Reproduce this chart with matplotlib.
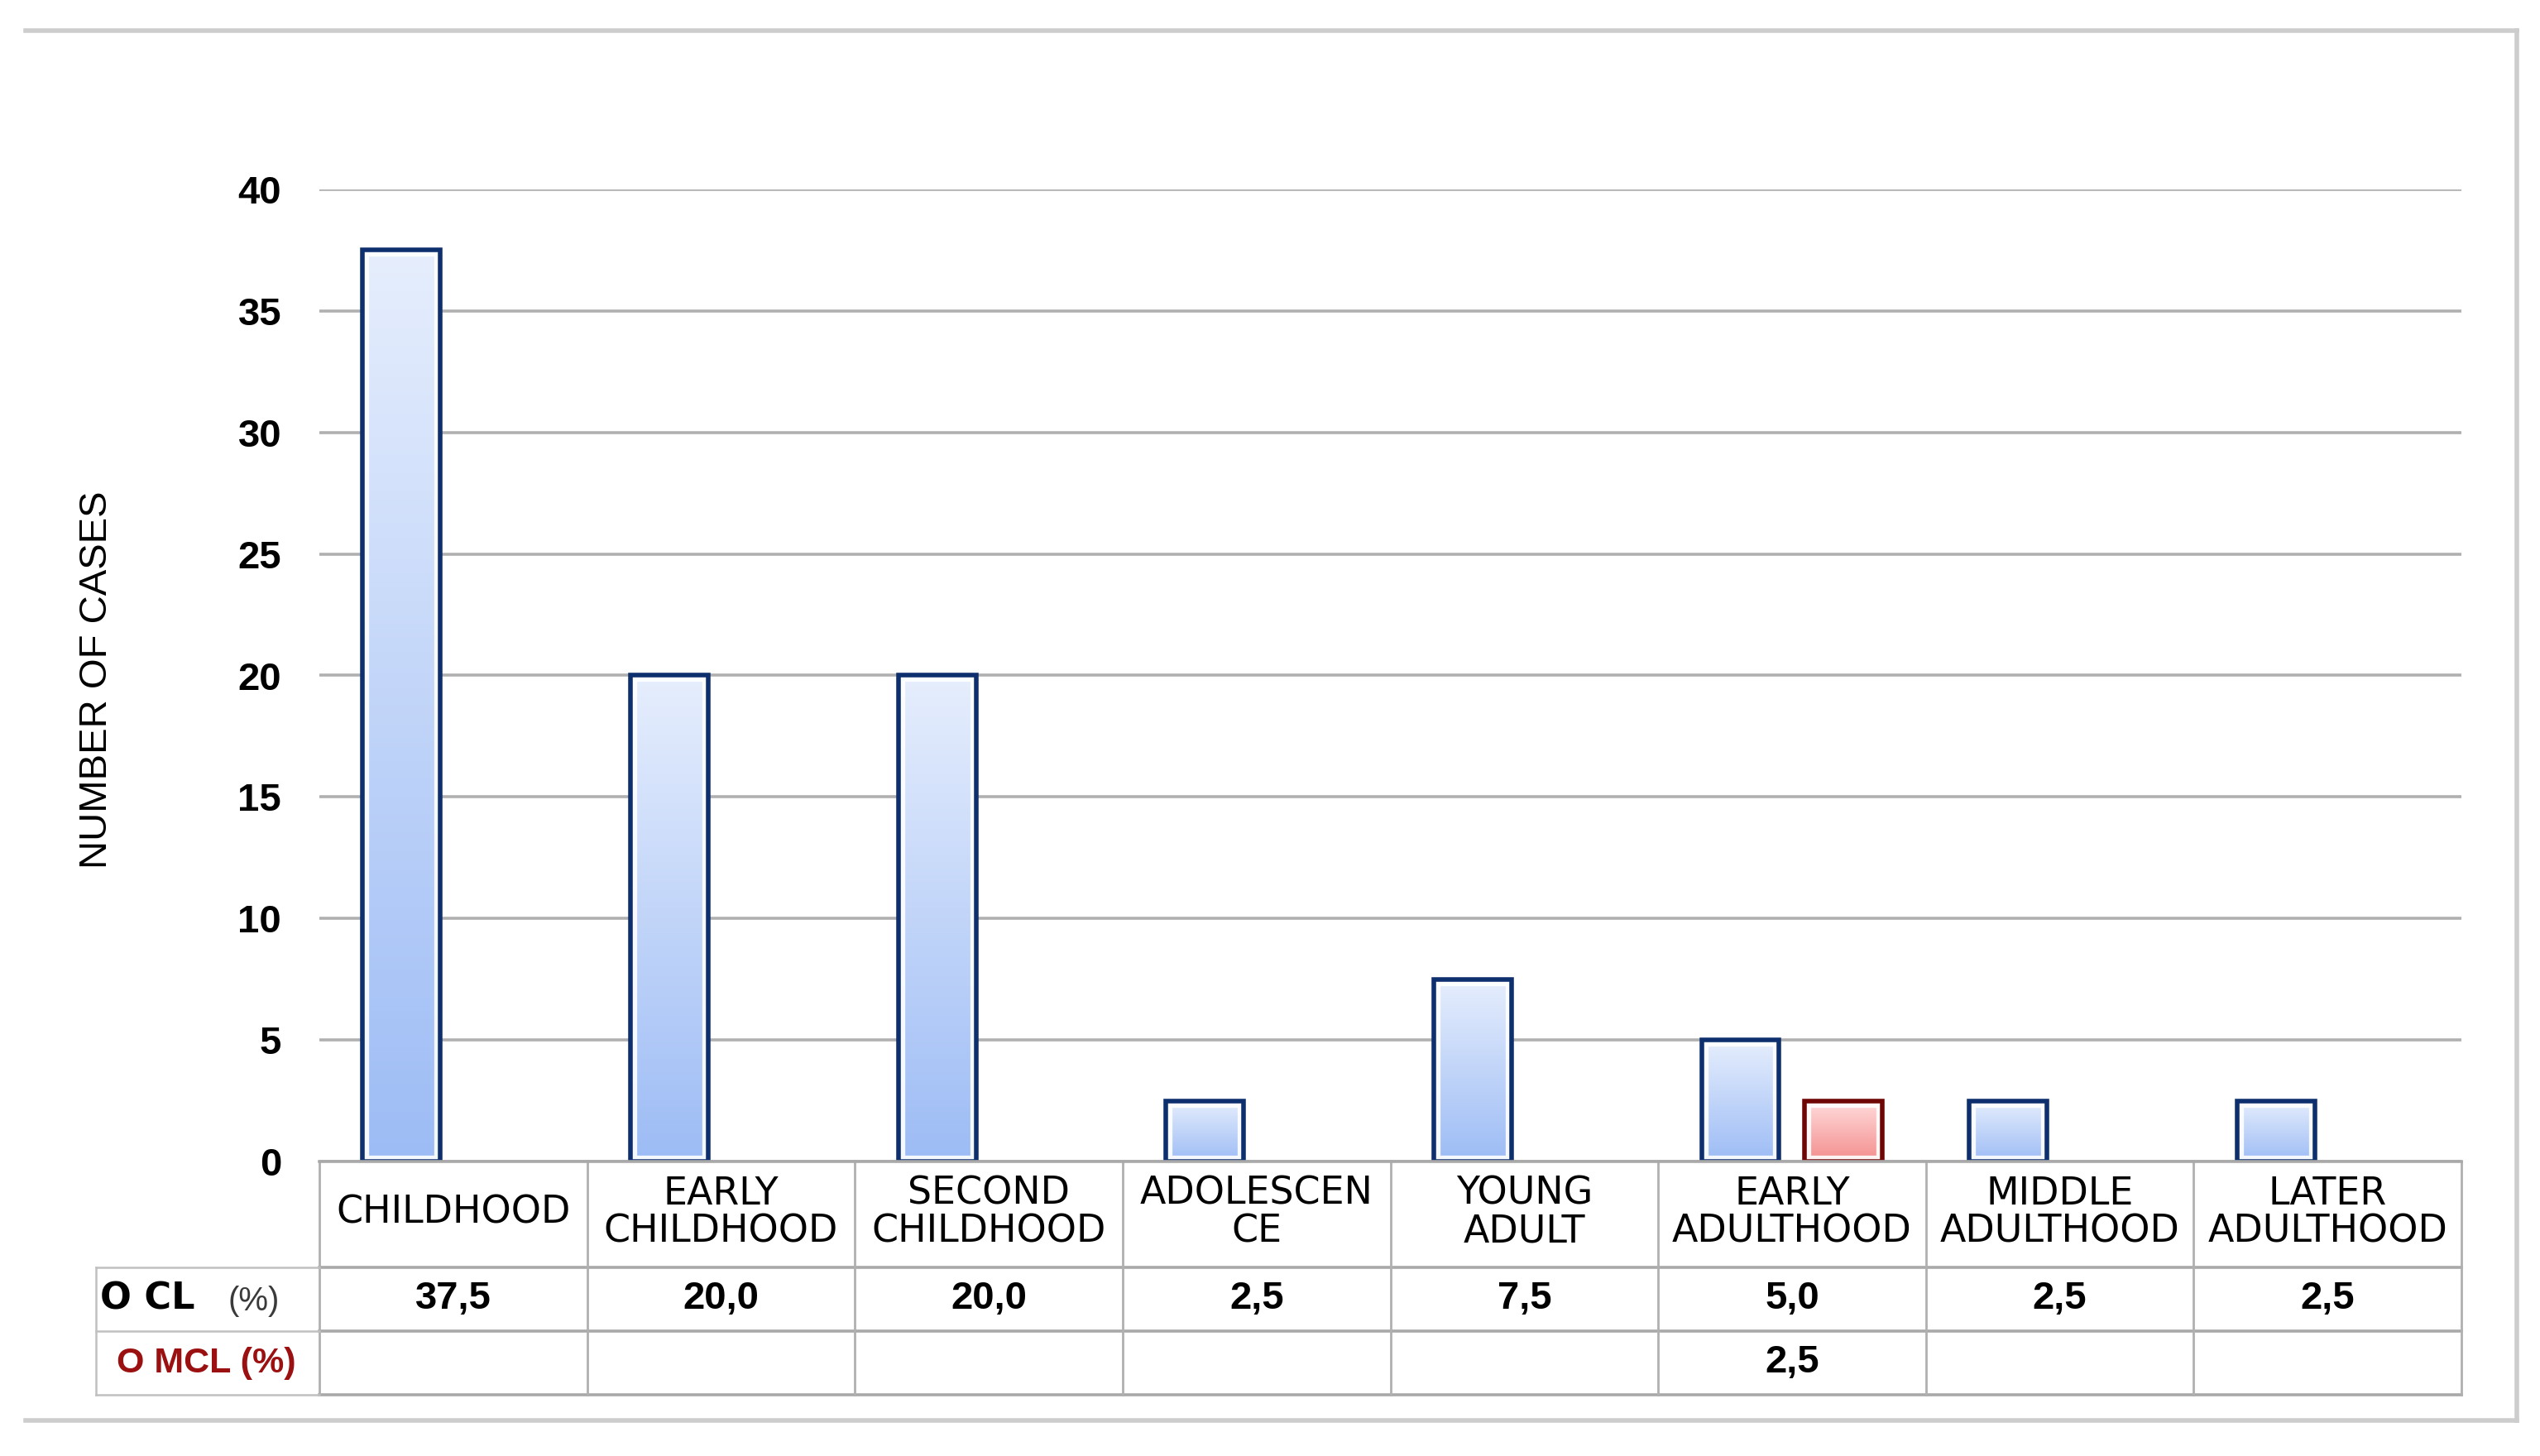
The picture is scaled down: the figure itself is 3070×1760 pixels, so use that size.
import numpy as np
import matplotlib.pyplot as plt
import matplotlib.transforms as mtransforms
from matplotlib.colors import LinearSegmentedColormap
from matplotlib.lines import Line2D

plt.rcParams['font.family'] = ['Liberation Sans', 'DejaVu Sans']

# data
categories = ["CHILDHOOD", "EARLY\nCHILDHOOD", "SECOND\nCHILDHOOD", "ADOLESCEN\nCE",
              "YOUNG\nADULT", "EARLY\nADULTHOOD", "MIDDLE\nADULTHOOD", "LATER\nADULTHOOD"]
cl_pct = [37.5, 20.0, 20.0, 2.5, 7.5, 5.0, 2.5, 2.5]
mcl_pct = [np.nan, np.nan, np.nan, np.nan, np.nan, 2.5, np.nan, np.nan]
row_labels = ["O CL", "O MCL (%)"]
y_ticks = [0, 5, 10, 15, 20, 25, 30, 35, 40]

W, H = 3070, 1760
fig = plt.figure(figsize=(W / 100, H / 100), dpi=100)


def fx(px):
    return px / W


def fy(py):
    return 1 - py / H


# plot area (pixel layout of the reference)
ax_top, ax_bot = 229, 1404
ax = fig.add_axes([fx(386), fy(ax_bot), fx(2975) - fx(386), fy(ax_top) - fy(ax_bot)])

x = np.arange(len(categories))
bw = 0.29
off = 0.193


def gradient_bars(xpos, vals, top, bottom, edge):
    cmap = LinearSegmentedColormap.from_list('g', [bottom, top])
    bars = ax.bar(xpos, vals, bw, facecolor='none', edgecolor=edge, linewidth=4.0, zorder=4)
    grad = np.linspace(0, 1, 200).reshape(-1, 1)
    for b in bars:
        x0, y0, w, h = b.get_x(), b.get_y(), b.get_width(), b.get_height()
        im = ax.imshow(grad, extent=[x0, x0 + w, y0, y0 + h], origin='lower',
                       cmap=cmap, aspect='auto', zorder=3)
        im.set_clip_path(b)
        # white inner highlight along the edge
        hl = plt.Rectangle((x0, y0), w, h, facecolor='none', edgecolor='white',
                           linewidth=11, zorder=3.5, alpha=0.9)
        ax.add_patch(hl)
        hl.set_clip_path(b)
    return bars


gradient_bars(x - off, cl_pct, '#e6eefd', '#9dbcf5', '#0e2f6d')
mcl = np.array(mcl_pct)
ok = ~np.isnan(mcl)
gradient_bars(x[ok] + off, mcl[ok], '#ffdcdc', '#f48e8e', '#6e0606')

ax.set_xlim(-0.5, len(categories) - 0.5)
ax.set_ylim(0, 40)
ax.set_yticks(y_ticks)
ax.set_yticklabels([str(t) for t in y_ticks], fontsize=34, fontweight='bold')
ax.yaxis.grid(True, color='#b0b0b0', linewidth=2.6)
ax.set_axisbelow(True)
for s in ax.spines.values():
    s.set_visible(False)
ax.tick_params(axis='y', length=0, pad=33)
ax.tick_params(axis='x', bottom=False, labelbottom=False)

# data table under the plot
trans = mtransforms.blended_transform_factory(ax.transData, ax.transAxes)


def ay(py):
    return (ax_bot - py) / (ax_bot - ax_top)


rows_px = [1404, 1532, 1609, 1686]
for py in rows_px:
    ax.plot([-0.5, len(categories) - 0.5], [ay(py)] * 2, transform=trans,
            color='#a9a9a9', lw=2.6, clip_on=False, zorder=5 if py == 1404 else 2)
for xb in np.arange(-0.5, len(categories), 1):
    ax.plot([xb, xb], [ay(rows_px[0]), ay(rows_px[-1])], transform=trans,
            color='#b0b0b0', lw=2.0, clip_on=False)

for xi, cat in zip(x, categories):
    ax.text(xi, ay(1466), cat, transform=trans, ha='center', va='center',
            fontsize=33, family='DejaVu Sans', linespacing=1.02, clip_on=False)
for xi, v in zip(x, cl_pct):
    ax.text(xi, ay(1570), f"{v:.1f}".replace('.', ','), transform=trans,
            ha='center', va='center', fontsize=34, fontweight='bold', clip_on=False)
for xi, v in zip(x, mcl_pct):
    if not np.isnan(v):
        ax.text(xi, ay(1647), f"{v:.1f}".replace('.', ','), transform=trans,
                ha='center', va='center', fontsize=34, fontweight='bold', clip_on=False)

# row label box
box_kw = dict(transform=fig.transFigure, color='#c0c0c0', lw=1.8)
for py in rows_px[1:]:
    fig.add_artist(Line2D([fx(116), fx(386)], [fy(py), fy(py)], **box_kw))
fig.add_artist(Line2D([fx(116), fx(116)], [fy(rows_px[1]), fy(rows_px[-1])], **box_kw))

fig.text(fx(121), fy(1570), row_labels[0], fontsize=32, fontweight='bold',
         family='DejaVu Sans', va='center')
fig.text(fx(275), fy(1573), "(%)", fontsize=29, color='#3a3a3a', va='center')
fig.text(fx(249), fy(1648), row_labels[1], fontsize=31, fontweight='bold',
         color='#9b1111', ha='center', va='center')

# y label
fig.text(fx(117), fy(822), 'NUMBER OF CASES', rotation=90, fontsize=34,
         ha='center', va='center')

# outer frame (top, right, bottom)
frame_kw = dict(transform=fig.transFigure, color='#cdcdcd', lw=4)
fig.add_artist(Line2D([fx(31), fx(3042)], [fy(37), fy(37)], **frame_kw))
fig.add_artist(Line2D([fx(3042), fx(3042)], [fy(37), fy(1717)], **frame_kw))
fig.add_artist(Line2D([fx(31), fx(3042)], [fy(1717), fy(1717)], **frame_kw))

fig.savefig('out.png', dpi=100)
